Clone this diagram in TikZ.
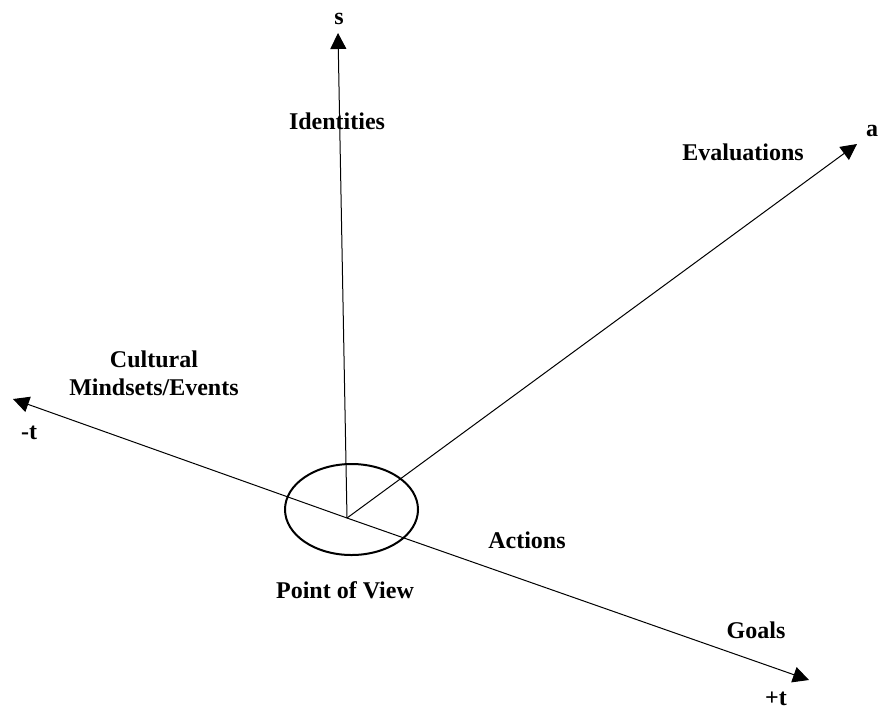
\documentclass[tikz,border=0pt]{standalone}
\usepackage{fontspec}
\setmainfont{Liberation Serif}
\usetikzlibrary{arrows.meta,shapes.geometric}
\begin{document}
\begin{tikzpicture}[x=0.5pt,y=-0.5pt,
  axis/.style={line width=0.5pt,-{Triangle[length=8pt,width=8pt]}},
  lbl/.style={font=\fontsize{12}{13.8}\selectfont\bfseries,inner sep=0pt,align=center}]
  \useasboundingbox (0,0) rectangle (878,709);
  % origin and axis ends
  \coordinate (o) at (347,518);
  \coordinate (sEnd) at (338,33);
  \coordinate (aEnd) at (857,144);
  \coordinate (mEnd) at (13,399);
  \coordinate (pEnd) at (809,680);
  % point of view ring
  \node[ellipse,draw,line width=1pt,minimum width=66.5pt,minimum height=45.5pt,inner sep=0pt] (pov) at (351.5,509.5) {};
  % axes
  \draw[axis] (o) -- (sEnd);
  \draw[axis] (o) -- (aEnd);
  \draw[axis] (o) -- (mEnd);
  \draw[axis] (o) -- (pEnd);
  % labels
  \node[lbl] (ls) at (339,19) {s};
  \node[lbl] (la) at (872,131) {a};
  \node[lbl] (lmt) at (29,433) {-t};
  \node[lbl] (lpt) at (776,699) {+t};
  \node[lbl] (ident) at (337,121) {Identities};
  \node[lbl] (eval) at (743,152) {Evaluations};
  \node[lbl] (cult) at (154,373) {Cultural\\Mindsets/Events};
  \node[lbl] (act) at (527,540) {Actions};
  \node[lbl] (goals) at (756,630) {Goals};
  \node[lbl] (povl) at (345,590) {Point of View};
\end{tikzpicture}
\end{document}
